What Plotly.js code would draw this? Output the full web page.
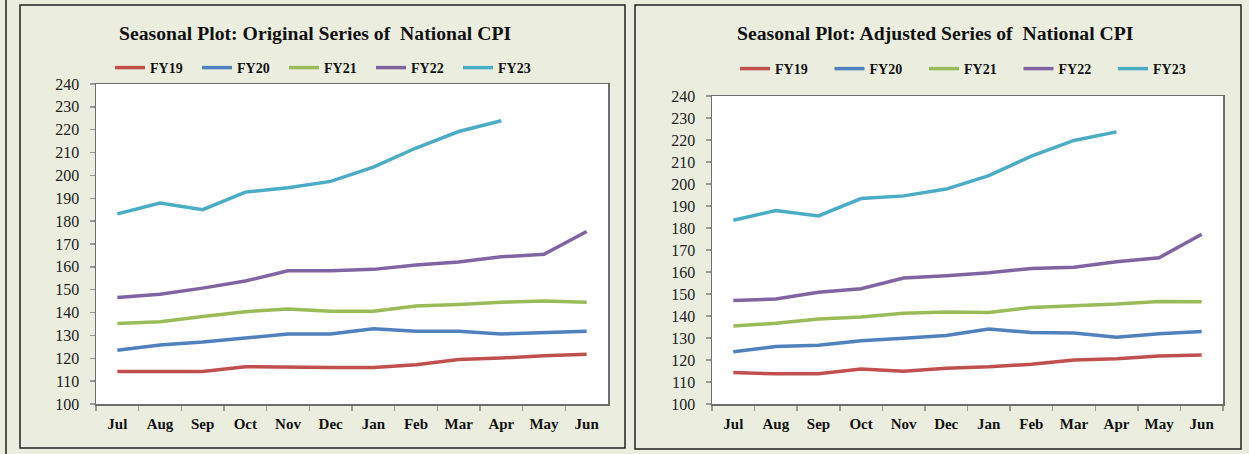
<!DOCTYPE html>
<html>
<head>
<meta charset="utf-8">
<script src="https://cdn.plot.ly/plotly-3.0.1.min.js"></script>
<style>html,body{margin:0;padding:0;background:#EBEEDF;}#chart{width:1249px;height:454px;}</style>
</head>
<body>
<div id="chart"></div>
<script>
const months = ["Jul","Aug","Sep","Oct","Nov","Dec","Jan","Feb","Mar","Apr","May","Jun"];
const seriesNames = ["FY19","FY20","FY21","FY22","FY23"];
const colors = ["#C0504D","#4F81BD","#9BBB59","#8064A2","#4BACC6"];

// Original series
const origFY19 = [114.2,114.2,114.2,116.3,116.0,116.0,116.0,117.2,119.5,120.1,121.1,121.8];
const origFY20 = [123.5,125.8,127.1,128.9,130.6,130.6,132.9,131.8,131.8,130.6,131.2,131.8];
const origFY21 = [135.2,136.0,138.3,140.4,141.6,140.6,140.6,142.9,143.5,144.5,145.1,144.5];
const origFY22 = [146.6,148.0,150.7,153.8,158.3,158.3,158.9,160.8,162.1,164.4,165.5,175.5];
const origFY23 = [183.2,187.9,185.0,192.7,194.6,197.4,203.6,212.0,219.2,223.9];

// Seasonally adjusted series
const adjFY19 = [114.3,113.7,113.7,115.9,114.9,116.3,116.9,118.1,120.0,120.6,121.8,122.3];
const adjFY20 = [123.8,126.1,126.7,128.7,129.9,131.1,134.1,132.5,132.3,130.3,131.9,132.9];
const adjFY21 = [135.4,136.7,138.6,139.6,141.2,141.8,141.6,143.9,144.7,145.4,146.6,146.5];
const adjFY22 = [147.1,147.7,150.8,152.4,157.3,158.3,159.7,161.6,162.2,164.7,166.5,177.2];
const adjFY23 = [183.5,187.9,185.5,193.4,194.6,197.7,203.8,212.7,219.8,223.7];

const leftTitle = "Seasonal Plot: Original Series of  National CPI";
const rightTitle = "Seasonal Plot: Adjusted Series of  National CPI";

const W = 1249, H = 454;
const px = v => v / W;
const py = v => 1 - v / H;

const serif = "Liberation Serif, Times New Roman, serif";
const origData = [origFY19, origFY20, origFY21, origFY22, origFY23];
const adjData = [adjFY19, adjFY20, adjFY21, adjFY22, adjFY23];

const traces = [];
origData.forEach((d, i) => {
  traces.push({x: months.slice(0, d.length), y: d, type: 'scatter', mode: 'lines',
    name: seriesNames[i], line: {color: colors[i], width: 3.5}, xaxis: 'x', yaxis: 'y', legend: 'legend'});
});
adjData.forEach((d, i) => {
  traces.push({x: months.slice(0, d.length), y: d, type: 'scatter', mode: 'lines',
    name: seriesNames[i], line: {color: colors[i], width: 3.5}, xaxis: 'x2', yaxis: 'y2', legend: 'legend2'});
});

const xax = (dom, anchor) => ({
  domain: dom, anchor: anchor, type: 'category', categoryorder: 'array', categoryarray: months,
  range: [-0.5, 11.5], showline: true, mirror: true, linecolor: '#6e6e6e', linewidth: 1.5,
  ticks: 'outside', ticklen: 5, tickcolor: '#999999', tickwidth: 1.5, tickson: 'boundaries',
  showgrid: false, zeroline: false, ticklabelstandoff: 5, tickangle: 0,
  tickfont: {family: serif, size: 15, color: '#111111', weight: 'bold'}, fixedrange: true
});
const yax = (dom, anchor) => ({
  domain: dom, anchor: anchor, range: [100, 240], dtick: 10, tick0: 100,
  showline: true, mirror: true, linecolor: '#6e6e6e', linewidth: 1.5,
  ticks: 'outside', ticklen: 5, tickcolor: '#999999', tickwidth: 1.5,
  showgrid: false, zeroline: false, ticklabelstandoff: 7,
  tickfont: {family: serif, size: 16, color: '#222222'}, fixedrange: true
});

const legendBase = (x, y, ew) => ({
  orientation: 'h', x: x, y: y, xanchor: 'left', yanchor: 'middle',
  bgcolor: 'rgba(0,0,0,0)', borderwidth: 0, entrywidth: ew, entrywidthmode: 'pixels',
  font: {family: serif, size: 14, color: '#111111', weight: 'bold'}, itemclick: false, itemdoubleclick: false,
  tracegroupgap: 0
});

const layout = {
  width: W, height: H, autosize: false,
  margin: {l: 0, r: 0, t: 0, b: 0, pad: 0},
  paper_bgcolor: '#EBEEDF', plot_bgcolor: '#FFFFFF',
  showlegend: true,
  xaxis: xax([px(96), px(608)], 'y'),
  yaxis: yax([py(404), py(84)], 'x'),
  xaxis2: xax([px(712), px(1223)], 'y2'),
  yaxis2: yax([py(404), py(96)], 'x2'),
  legend: legendBase(px(110), py(68), 42),
  legend2: legendBase(px(735), py(69), 49.5),
  annotations: [
    {text: '<b>' + leftTitle + '</b>', xref: 'paper', yref: 'paper', x: px(315), y: py(33),
     xanchor: 'center', yanchor: 'middle', showarrow: false,
     font: {family: serif, size: 19.7, color: '#111111'}},
    {text: '<b>' + rightTitle + '</b>', xref: 'paper', yref: 'paper', x: px(935), y: py(33),
     xanchor: 'center', yanchor: 'middle', showarrow: false,
     font: {family: serif, size: 19.7, color: '#111111'}}
  ],
  shapes: [
    {type: 'line', xref: 'paper', yref: 'paper', x0: px(6), x1: px(6), y0: 0, y1: 1,
     line: {color: '#222222', width: 1.5}},
    {type: 'rect', xref: 'paper', yref: 'paper', x0: px(20), x1: px(625), y0: py(448), y1: py(5),
     line: {color: '#222222', width: 1.5}, layer: 'below'},
    {type: 'rect', xref: 'paper', yref: 'paper', x0: px(635), x1: px(1241), y0: py(449), y1: py(5),
     line: {color: '#222222', width: 1.5}, layer: 'below'}
  ]
};

Plotly.newPlot('chart', traces, layout, {displayModeBar: false, staticPlot: true});
</script>
</body>
</html>
